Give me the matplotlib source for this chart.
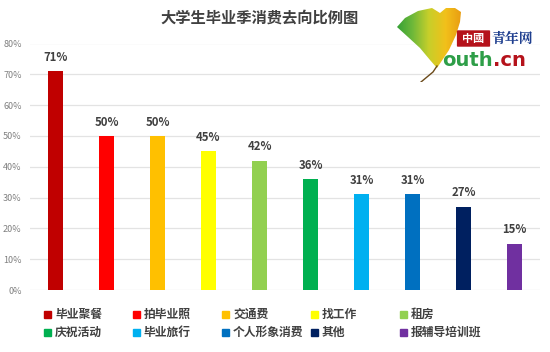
import numpy as np
import matplotlib.pyplot as plt
from matplotlib.patches import Polygon, FancyBboxPatch
from matplotlib.colors import LinearSegmentedColormap

plt.rcParams['font.family'] = ['Noto Sans CJK SC', 'DejaVu Sans']

# =========================================================
# DATA
# =========================================================

title = "大学生毕业季消费去向比例图"
categories = ["毕业聚餐", "拍毕业照", "交通费", "找工作", "租房",
              "庆祝活动", "毕业旅行", "个人形象消费", "其他", "报辅导培训班"]
values = [71, 50, 50, 45, 42, 36, 31, 31, 27, 15]
colors = ["#C00000", "#FF0000", "#FFC000", "#FFFF00", "#92D050",
          "#00B050", "#00B0F0", "#0070C0", "#002060", "#7030A0"]
yticks = [0, 10, 20, 30, 40, 50, 60, 70, 80]

W, H = 550, 352


def fx(px):
    return px / W


def fy(py):
    return 1 - py / H


# =========================================================
# PLOT
# =========================================================

fig = plt.figure(figsize=(5.5, 3.52), dpi=100)
ax = fig.add_axes([fx(30), 62 / H, 510 / W, 246.5 / H])

x = np.arange(len(categories))
ax.bar(x, values, width=0.31, color=colors, zorder=3)

for xi, v in zip(x, values):
    ax.text(xi, v + 2.4, f"{v}%", ha="center", va="bottom",
            fontsize=8.2, fontweight="bold", color="#404040")

ax.set_xlim(-0.5, 9.5)
ax.set_ylim(0, 80)
ax.set_yticks(yticks)
ax.set_yticklabels([f"{t}%" for t in yticks], fontsize=6.5, color="#808080")
ax.set_xticks([])
ax.tick_params(axis="y", length=0, pad=6)
ax.grid(axis="y", color="#e3e3e3", linewidth=0.9, zorder=0)
for s in ax.spines.values():
    s.set_visible(False)

fig.text(fx(260), fy(18), title, ha="center", va="center",
         fontsize=11, fontweight="bold", color="#404040")

# legend, 2 rows x 5 columns
col_x = [44, 133, 222, 311, 400]
row_y = [314, 332]
for i, (c, name) in enumerate(zip(colors, categories)):
    cx = col_x[i % 5]
    cy = row_y[i // 5]
    fig.patches.append(plt.Rectangle((fx(cx), fy(cy + 3.5)), 7 / W, 7 / H,
                                     color=c, transform=fig.transFigure,
                                     figure=fig))
    fig.text(fx(cx + 11), fy(cy), name, ha="left", va="center",
             fontsize=8.5, fontweight="bold", color="#404040")

# ---------------------------------------------------------
# logo (rough): ginkgo leaf + text
# ---------------------------------------------------------
lax = fig.add_axes([fx(390), fy(82), 80 / W, 82 / H])
lax.set_xlim(390, 470)
lax.set_ylim(82, 0)
lax.axis("off")

leaf = [(397, 27), (405, 18), (418, 11), (432, 8), (440, 13), (446, 8),
        (455, 8), (461, 12), (460, 22), (456, 35), (449, 50), (441, 62),
        (437, 68), (430, 60), (420, 48), (408, 37)]
clip = Polygon(leaf, closed=True, facecolor="none", edgecolor="none")
lax.add_patch(clip)
leaf_cmap = LinearSegmentedColormap.from_list(
    "leaf", ["#2f9e35", "#6db83a", "#c8cf2a", "#f2c01a", "#e89a12"])
grad = np.tile(np.linspace(0, 1, 100), (100, 1))
im = lax.imshow(grad, cmap=leaf_cmap, extent=(395, 463, 70, 5),
                aspect="auto", origin="upper")
im.set_clip_path(clip)
lax.plot([437, 433, 421], [66, 72, 82], color="#6b4a1a", linewidth=1.0)

fig.patches.append(FancyBboxPatch((fx(458), fy(46)), 31 / W, 15 / H,
                                  boxstyle="round,pad=0.002",
                                  facecolor="#b5121b", edgecolor="none",
                                  transform=fig.transFigure, figure=fig))
fig.text(fx(473.5), fy(38.5), "中國", ha="center", va="center",
         fontsize=8, fontweight="bold", color="white")
fig.text(fx(491), fy(38.5), "青年网", ha="left", va="center",
         fontsize=10, fontweight="bold", color="#1f3f8f",
         family=["Noto Serif CJK SC", "Noto Sans CJK SC"])

t1 = fig.text(fx(442), fy(61), "outh", ha="left", va="center",
              fontsize=14, fontweight="bold", color="#2e9e48",
              family="DejaVu Sans")
fig.canvas.draw()
bb = t1.get_window_extent(renderer=fig.canvas.get_renderer())
fig.text(bb.x1 / fig.bbox.width, fy(61), ".cn",
         ha="left", va="center", fontsize=14, fontweight="bold",
         color="#b5121b", family="DejaVu Sans")

fig.savefig("out.png", dpi=100)
